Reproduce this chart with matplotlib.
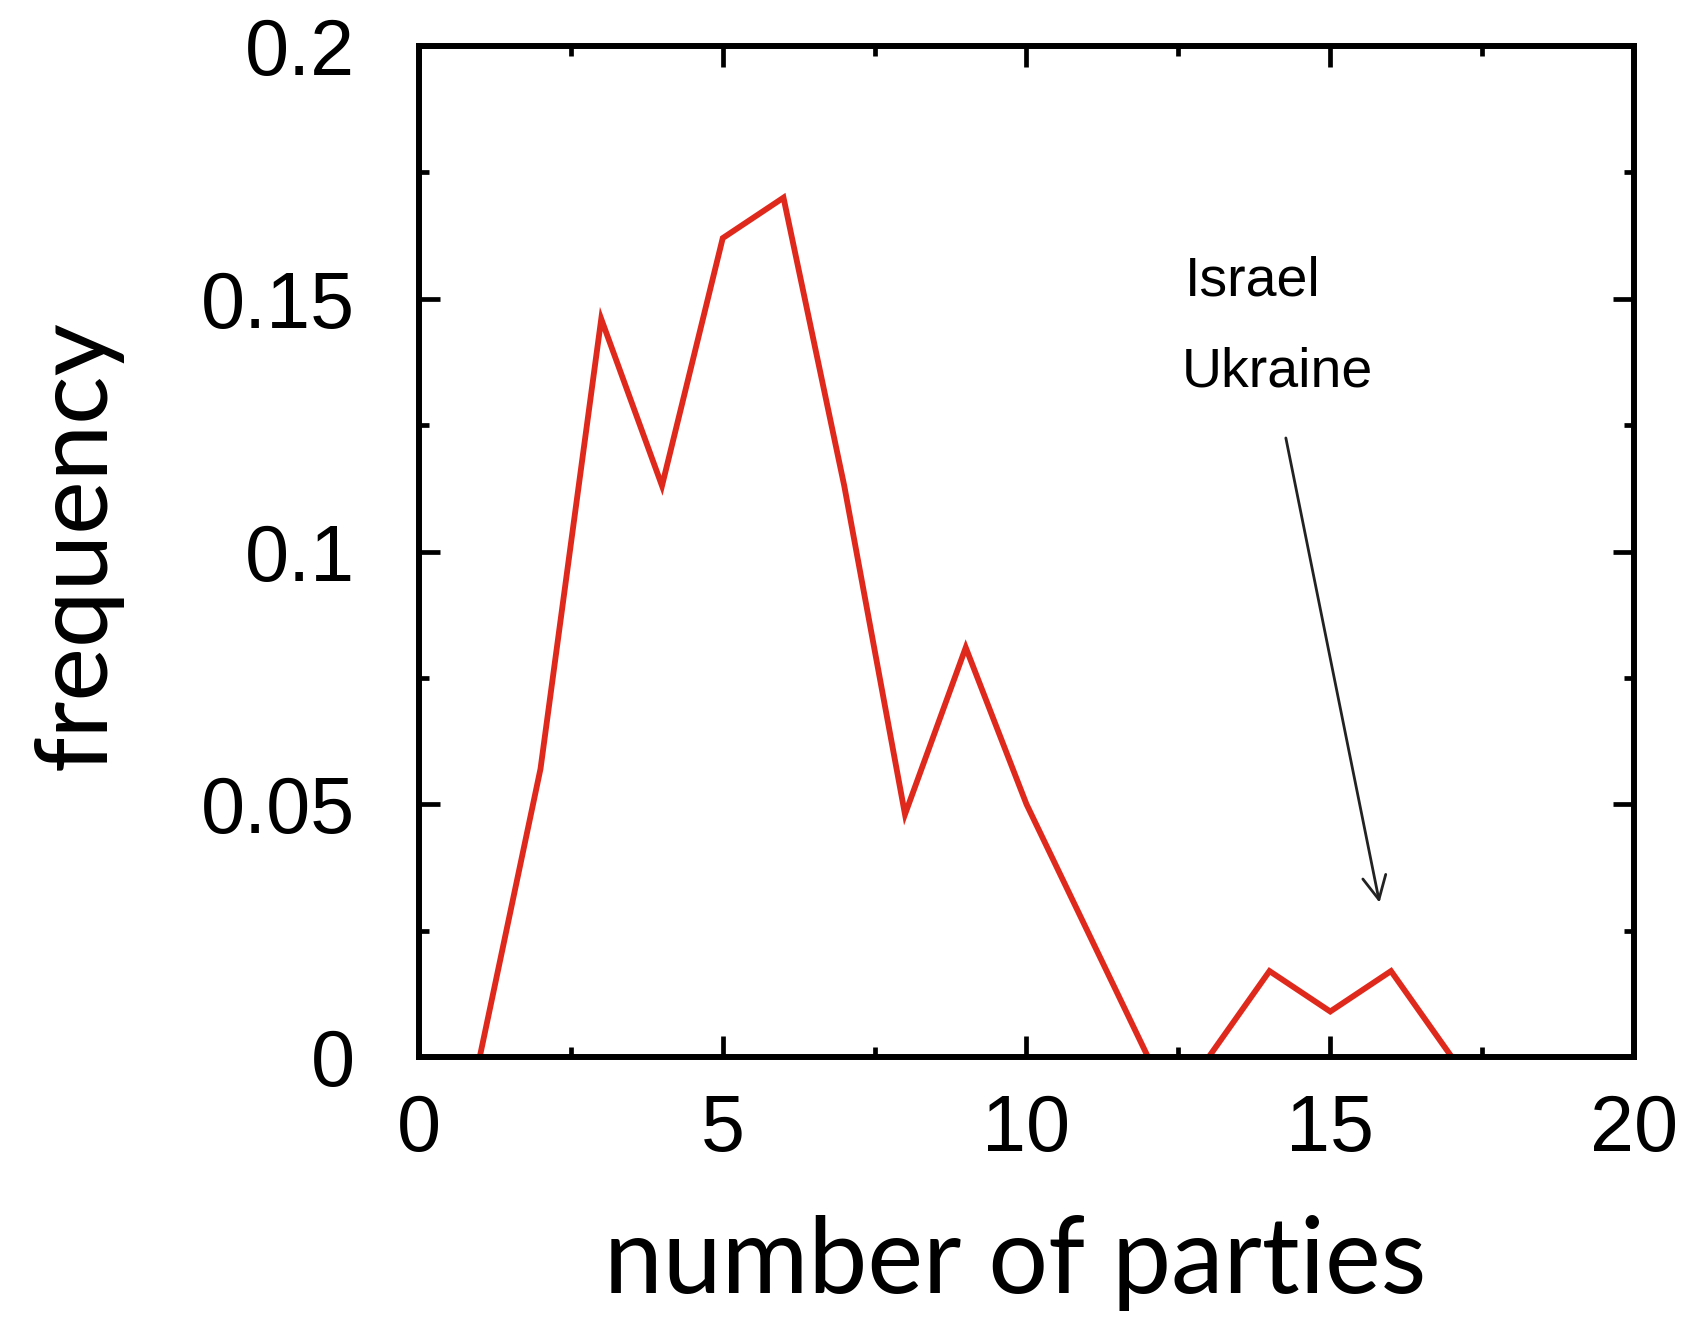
import matplotlib.pyplot as plt
from matplotlib.ticker import MultipleLocator

# number of parties vs. frequency of countries
n_parties = [1, 2, 3, 4, 5, 6, 7, 8, 9, 10, 11, 12, 13, 14, 15, 16, 17]
frequency = [0.0, 0.057, 0.146, 0.113, 0.162, 0.170, 0.113, 0.048, 0.081,
             0.050, 0.025, 0.0, 0.0, 0.017, 0.009, 0.017, 0.0]

x_ticks = [0, 5, 10, 15, 20]
x_ticklabels = ['0', '5', '10', '15', '20']
y_ticks = [0, 0.05, 0.1, 0.15, 0.2]
y_ticklabels = ['0', '0.05', '0.1', '0.15', '0.2']

note_lines = ['Israel', 'Ukraine']
note_pos = [(12.6, 0.1535), (12.55, 0.1355)]
arrow_from = (14.26, 0.123)
arrow_to = (15.82, 0.030)

fig = plt.figure(figsize=(16.83, 13.21), dpi=100)
ax = fig.add_axes([419 / 1683, 1 - 1057 / 1321, 1215 / 1683, 1011 / 1321])

ax.plot(n_parties, frequency, color='#e0291d', lw=4.2, solid_joinstyle='miter')

ax.set_xlim(0, 20)
ax.set_ylim(0, 0.2)
ax.set_xticks(x_ticks)
ax.set_xticklabels(x_ticklabels)
ax.set_yticks(y_ticks)
ax.set_yticklabels(y_ticklabels)
ax.xaxis.set_minor_locator(MultipleLocator(2.5))
ax.yaxis.set_minor_locator(MultipleLocator(0.025))

for s in ax.spines.values():
    s.set_linewidth(4.3)
ax.tick_params(which='both', direction='in', top=True, right=True,
               labelsize=57, width=3.4)
ax.tick_params(which='major', length=15)
ax.tick_params(which='minor', length=7)
ax.tick_params(axis='x', pad=26)
ax.tick_params(axis='y', pad=46)
for lab in ax.get_xticklabels() + ax.get_yticklabels():
    lab.set_family('Liberation Sans')

for txt, (x, y) in zip(note_lines, note_pos):
    ax.text(x, y, txt, fontsize=40, family='Liberation Sans', va='center', ha='left')

ax.annotate('', xy=arrow_to, xytext=arrow_from,
            arrowprops=dict(arrowstyle='->', color='#222222', lw=2.0,
                            mutation_scale=42))

ax.set_xlabel('number of parties', fontsize=76, family='Lato')
ax.xaxis.label.set_va('baseline')
ax.xaxis.set_label_coords(0.491, -0.233)

ax.set_ylabel('frequency', fontsize=73, family='Lato')
ax.yaxis.set_label_coords(-0.2436, 0.506)

fig.savefig('out.png', dpi=100)
